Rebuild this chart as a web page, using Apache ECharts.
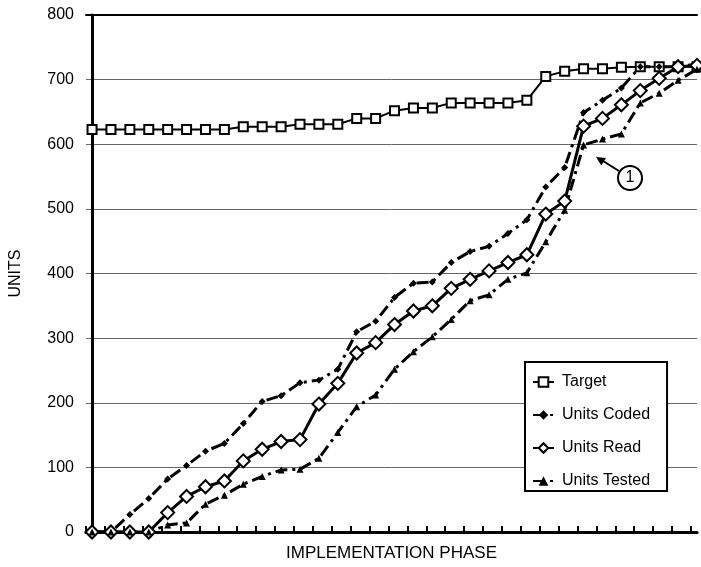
<!DOCTYPE html>
<html>
<head>
<meta charset="utf-8">
<script src="https://cdn.jsdelivr.net/npm/echarts@6/dist/echarts.min.js"></script>
<style>html,body{margin:0;padding:0;background:#fff}#c{width:701px;height:567px}</style>
</head>
<body>
<div id="c"></div>
<script>
const phases = ['1','2','3','4','5','6','7','8','9','10','11','12','13','14','15','16','17','18','19','20','21','22','23','24','25','26','27','28','29','30','31','32','33'];
const target = [623,623,623,623,623,623,623,623,627,627,627,631,631,631,640,640,652,656,656,664,664,664,664,668,705,713,717,717,719,720,720,720,720];
const unitsCoded = [0,0,27,52,82,103,125,137,168,202,211,231,235,252,310,326,363,385,387,417,434,442,462,483,534,564,649,668,687,720,720,720,724];
const unitsRead = [0,0,0,0,30,55,70,79,110,128,140,143,198,230,277,293,321,342,350,377,391,404,417,429,492,512,628,640,661,683,702,720,722];
const unitsTested = [0,0,0,0,11,14,43,57,74,86,96,97,114,154,194,212,252,279,302,329,358,367,391,401,449,498,599,608,616,664,679,699,716];
const yTicks = [0,100,200,300,400,500,600,700,800];

const FONT = 'Liberation Sans, Arial, sans-serif';
const X_MIN = -0.32, X_MAX = 32;
const pairs = arr => arr.map((v, i) => [i, v]);
const tickVals = [];
for (let k = 0; X_MIN + k <= X_MAX; k++) tickVals.push(+(X_MIN + k).toFixed(2));

const chart = echarts.init(document.getElementById('c'), null, {renderer: 'canvas'});
const dash = [12, 5, 3, 5];
chart.setOption({
  animation: false,
  backgroundColor: '#fff',
  textStyle: {fontFamily: FONT, color: '#000'},
  grid: {left: 84, right: 4, top: 15, bottom: 35},
  xAxis: [{
    type: 'value', min: X_MIN, max: X_MAX,
    name: 'IMPLEMENTATION PHASE', nameLocation: 'middle', nameGap: 13,
    nameTextStyle: {fontSize: 17, color: '#000', fontFamily: FONT},
    axisLine: {show: true, onZero: false, lineStyle: {color: '#000', width: 3}},
    axisTick: {show: true, inside: true, length: 6, customValues: tickVals, lineStyle: {color: '#000', width: 2}},
    axisLabel: {show: false},
    splitLine: {show: false}
  }, {
    type: 'value', min: X_MIN, max: X_MAX, position: 'top',
    axisLine: {show: true, onZero: false, lineStyle: {color: '#000', width: 2}},
    axisTick: {show: false}, axisLabel: {show: false}, splitLine: {show: false}
  }],
  yAxis: {
    type: 'value', min: 0, max: 800, interval: 100,
    name: 'UNITS', nameLocation: 'middle', nameGap: 62, nameRotate: 90,
    nameTextStyle: {fontSize: 16, color: '#000', fontFamily: FONT},
    axisLine: {show: true, lineStyle: {color: '#000', width: 3}},
    axisTick: {show: false},
    axisLabel: {fontSize: 16, color: '#000', margin: 12, fontFamily: FONT,
      customValues: yTicks},
    splitLine: {show: true, lineStyle: {color: '#666', width: 1}}
  },
  legend: {
    orient: 'vertical', left: 525, top: 362,
    padding: [12, 17, 2, 7], itemGap: 17, itemWidth: 21, itemHeight: 12,
    backgroundColor: '#fff', borderColor: '#000', borderWidth: 2, borderRadius: 0,
    textStyle: {fontSize: 16, color: '#000', fontFamily: FONT, padding: [0, 0, 0, 3]},
    data: ['Target', 'Units Coded', 'Units Read', 'Units Tested']
  },
  series: [{
    name: 'Target', type: 'line', data: pairs(target),
    symbol: 'rect', symbolSize: 9,
    itemStyle: {color: '#fff', borderColor: '#000', borderWidth: 2},
    lineStyle: {color: '#000', width: 2}, clip: false
  }, {
    name: 'Units Coded', type: 'line', data: pairs(unitsCoded),
    symbol: 'diamond', symbolSize: 7,
    itemStyle: {color: '#000', borderColor: '#000', borderWidth: 0},
    lineStyle: {color: '#000', width: 3, type: dash}, clip: false
  }, {
    name: 'Units Read', type: 'line', data: pairs(unitsRead),
    symbol: 'diamond', symbolSize: 13,
    itemStyle: {color: '#fff', borderColor: '#000', borderWidth: 2},
    lineStyle: {color: '#000', width: 3}, clip: false
  }, {
    name: 'Units Tested', type: 'line', data: pairs(unitsTested),
    symbol: 'triangle', symbolSize: 7,
    itemStyle: {color: '#000', borderColor: '#000', borderWidth: 0},
    lineStyle: {color: '#000', width: 3, type: dash}, clip: false
  }],
  graphic: [
    {type: 'line', shape: {x1: 619, y1: 171, x2: 603, y2: 161}, style: {stroke: '#000', lineWidth: 2}, z: 100},
    {type: 'polygon', shape: {points: [[596, 157], [606, 158], [601.3, 165.5]]}, style: {fill: '#000'}, z: 100},
    {type: 'circle', shape: {cx: 630, cy: 178, r: 12}, style: {fill: '#fff', stroke: '#000', lineWidth: 2}, z: 100},
    {type: 'text', x: 630, y: 178, style: {text: '1', font: '16px ' + FONT, fill: '#000', align: 'center', verticalAlign: 'middle'}, z: 101}
  ]
});
</script>
</body>
</html>
